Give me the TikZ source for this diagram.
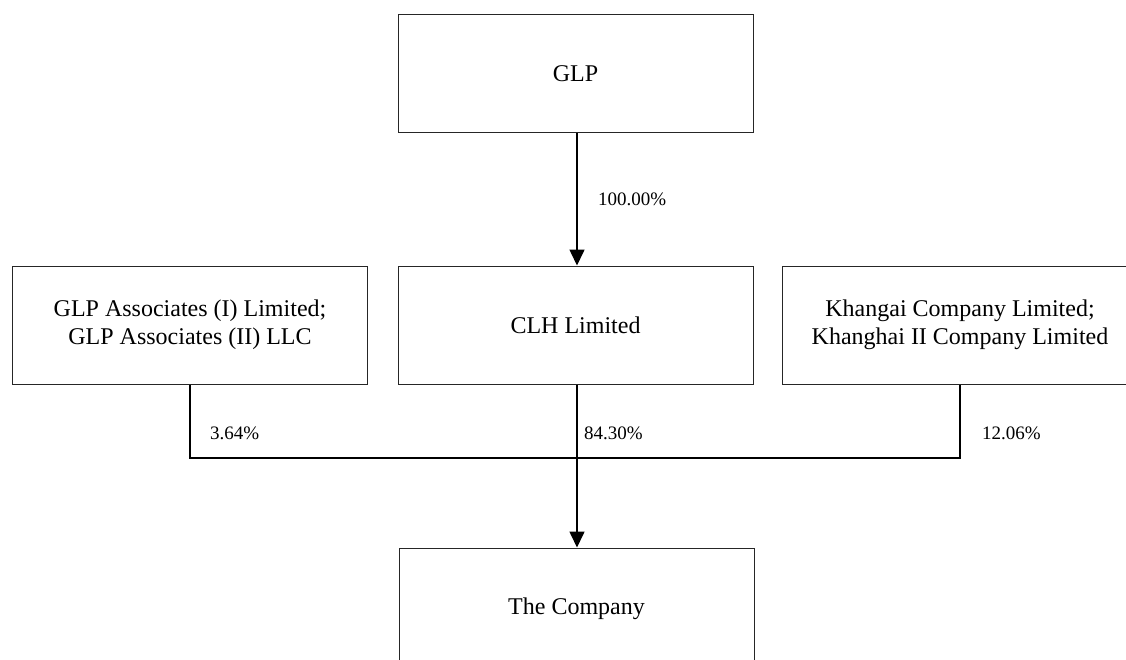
\documentclass[tikz,border=0pt]{standalone}
\usepackage{fontspec}
\setmainfont{Liberation Serif}
\usetikzlibrary{arrows.meta}
\begin{document}
\begin{tikzpicture}[x=1pt,y=-1pt,
  entity/.style={draw=black!85,line width=1pt,minimum width=355pt,minimum height=118pt,inner sep=0pt,align=center,font=\fontsize{24}{28}\selectfont},
  link/.style={line width=1.6pt},
  arrowlink/.style={link,-{Triangle[width=15pt,length=16pt]}},
  pct/.style={anchor=west,inner sep=0pt,font=\fontsize{19}{21}\selectfont}]
\useasboundingbox (0,0) rectangle (1126,659);
\clip (0,0) rectangle (1126,659);
\node[entity] (glp) at (575.5,73.5) {GLP};
\node[entity] (left) at (190,325) {GLP Associates (I) Limited;\\GLP Associates (II) LLC};
\node[entity] (mid) at (575.5,325) {CLH Limited};
\node[entity] (right) at (960,325) {Khangai Company Limited;\\Khanghai II Company Limited};
\node[entity,minimum height=122pt] (co) at (576.5,609) {The Company};
\coordinate (j) at (577,458);
\draw[arrowlink] (glp.south -| j) -- (mid.north -| j);
\draw[link] (left.south) |- (j) -| (right.south);
\draw[arrowlink] (mid.south -| j) -- (co.north -| j);
\node[pct] (p1) at (598,199) {100.00\%};
\node[pct] (p2) at (210,433) {3.64\%};
\node[pct] (p3) at (584,433) {84.30\%};
\node[pct] (p4) at (982,433) {12.06\%};
\end{tikzpicture}
\end{document}
